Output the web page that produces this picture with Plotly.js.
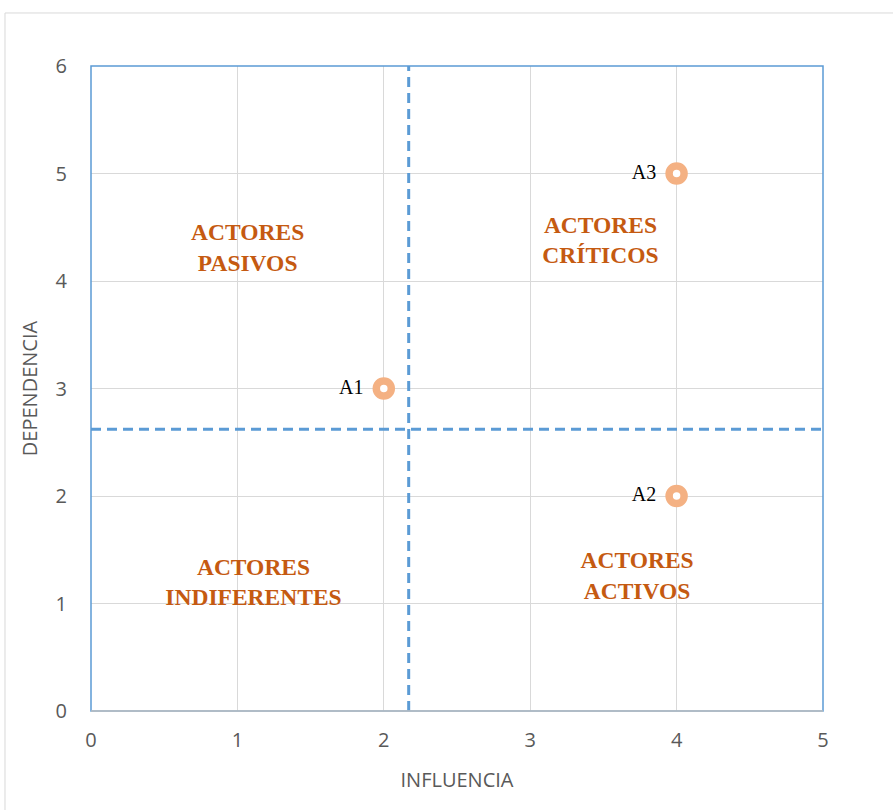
<!DOCTYPE html>
<html>
<head>
<meta charset="utf-8">
<script src="https://cdn.plot.ly/plotly-3.0.1.min.js"></script>
<style>html,body{margin:0;padding:0;background:#fff;}#chart{width:893px;height:810px;}</style>
</head>
<body>
<div id="chart"></div>
<script>
// Data
var actorNames = ["A1", "A2", "A3"];
var influencia = [2, 4, 4];
var dependencia = [3, 2, 5];

var cutInfluencia = 2.17;   // vertical dashed divider
var cutDependencia = 2.62;  // horizontal dashed divider

var quadrantLabels = ["ACTORES<br>PASIVOS", "ACTORES<br>CRÍTICOS", "ACTORES<br>INDIFERENTES", "ACTORES<br>ACTIVOS"];
var quadrantX = [1.07, 3.48, 1.11, 3.73];
var quadrantY = [4.29, 4.36, 1.18, 1.24];

var xTicks = [0, 1, 2, 3, 4, 5];
var yTicks = [0, 1, 2, 3, 4, 5, 6];
var xRange = [0, 5];
var yRange = [0, 6];

var dashColor = "#5B9BD5";
var axisFont = "'Open Sans', Lato, sans-serif";

var traces = [
  {
    x: [cutInfluencia, cutInfluencia], y: [yRange[0], yRange[1]],
    mode: "lines", line: {color: dashColor, width: 3, dash: "10px,6px"},
    hoverinfo: "skip", showlegend: false, cliponaxis: false
  },
  {
    x: [xRange[0], xRange[1]], y: [cutDependencia, cutDependencia],
    mode: "lines", line: {color: dashColor, width: 3, dash: "10px,6px"},
    hoverinfo: "skip", showlegend: false, cliponaxis: false
  },
  {
    x: influencia, y: dependencia, text: actorNames,
    mode: "markers+text", textposition: "middle left",
    texttemplate: "%{text}  ",
    textfont: {family: "Liberation Serif", size: 20, color: "#000"},
    marker: {symbol: "circle", size: 15, color: "#ffffff", line: {color: "#F4B183", width: 7.5}},
    showlegend: false, cliponaxis: false
  },
  {
    x: quadrantX, y: quadrantY, text: quadrantLabels,
    mode: "text", textposition: "middle center",
    textfont: {family: "Liberation Serif", size: 23.5, color: "#C55A11", weight: "bold"},
    hoverinfo: "skip", showlegend: false
  }
];

var axisCommon = {
  showgrid: true, gridcolor: "#D9D9D9", gridwidth: 1,
  zeroline: false, showline: false,
  ticks: "", tickfont: {family: axisFont, size: 20, color: "#595959"},
  fixedrange: true
};

var layout = {
  width: 893, height: 810,
  margin: {l: 91, r: 70, t: 66, b: 99},
  paper_bgcolor: "#fff", plot_bgcolor: "#fff",
  font: {family: axisFont},
  xaxis: Object.assign({}, axisCommon, {
    range: xRange, tickvals: xTicks, ticklabelstandoff: 15,
    title: {text: "INFLUENCIA", font: {family: axisFont, size: 20, color: "#595959"}, standoff: 20}
  }),
  yaxis: Object.assign({}, axisCommon, {
    range: yRange, tickvals: yTicks, ticklabelstandoff: 23,
    title: {text: "DEPENDENCIA", font: {family: axisFont, size: 20, color: "#595959"}, standoff: 12}
  }),
  shapes: [
    {type: "rect", xref: "paper", yref: "paper", x0: 0, x1: 1, y0: 0, y1: 1,
     line: {color: "#5B9BD5", width: 1.5}, layer: "above"},
    {type: "line", xref: "paper", yref: "paper", x0: 0, x1: 1, y0: 0, y1: 0,
     line: {color: "#BFBFBF", width: 1.5}, layer: "above"},
    {type: "rect", xref: "paper", yref: "paper", x0: -0.1175, x1: 1.3, y0: -0.3, y1: 1.0822,
     line: {color: "#D9D9D9", width: 1}, layer: "below"}
  ]
};

Plotly.newPlot("chart", traces, layout, {displayModeBar: false, staticPlot: true});
</script>
</body>
</html>
